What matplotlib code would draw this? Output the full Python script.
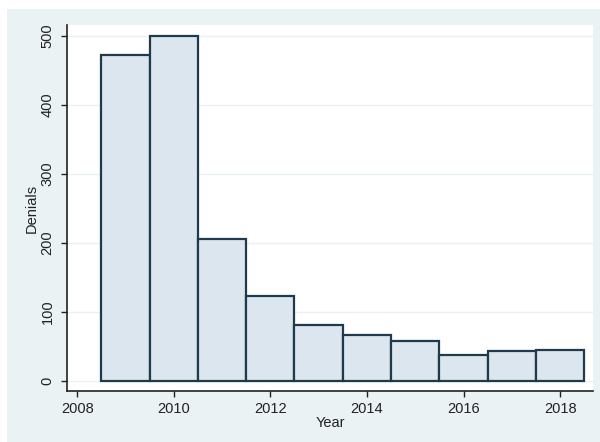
import matplotlib
matplotlib.use("Agg")
import matplotlib.pyplot as plt
from matplotlib.patches import Rectangle

plt.rcParams["font.family"] = ["Liberation Sans", "DejaVu Sans"]

years = [2009, 2010, 2011, 2012, 2013, 2014, 2015, 2016, 2017, 2018]
denials = [472, 500, 206, 123, 81, 67, 58, 38, 43, 45]
yticks = [0, 100, 200, 300, 400, 500]
xticks = [2008, 2010, 2012, 2014, 2016, 2018]

W, H = 600, 442
fig = plt.figure(figsize=(W / 100, H / 100), dpi=100)
fig.patch.set_facecolor("white")
fig.patches.append(Rectangle((7 / W, 0), (W - 7) / W, (H - 9) / H,
                             transform=fig.transFigure, facecolor="#EAF2F3",
                             edgecolor="none", zorder=-10))

left, right, top, bottom = 67, 593, 25, 391
ax = fig.add_axes([left / W, 1 - bottom / H, (right - left) / W, (bottom - top) / H])
ax.set_facecolor("white")

ax.bar(years, denials, width=1.0, color="#DCE6EF", edgecolor="#1E3A4C",
       linewidth=1.6, zorder=3)

ax.set_xlim(2007.79, 2018.68)
ax.set_ylim(-14.5, 516)
ax.set_yticks(yticks)
ax.set_xticks(xticks)
ax.set_yticklabels([str(v) for v in yticks], rotation=90, va="center", fontsize=10.5)
ax.set_xticklabels([str(v) for v in xticks], fontsize=10.5)
for v in yticks:
    ax.axhline(v, color="#EAF2F3", linewidth=1.0, zorder=1)

for s in ["top", "right"]:
    ax.spines[s].set_visible(False)
for s in ["left", "bottom"]:
    ax.spines[s].set_color("#222222")
    ax.spines[s].set_linewidth(1.2)
ax.tick_params(axis="both", length=4, width=1, color="#222222", labelcolor="#222222")
ax.tick_params(axis="y", pad=5)
ax.tick_params(axis="x", pad=4)

ax.set_xlabel("Year", fontsize=10.5, color="#222222", labelpad=0)
ax.set_ylabel("Denials", fontsize=10.5, color="#222222", labelpad=1)

fig.savefig("out.png", dpi=100, facecolor=fig.get_facecolor())
